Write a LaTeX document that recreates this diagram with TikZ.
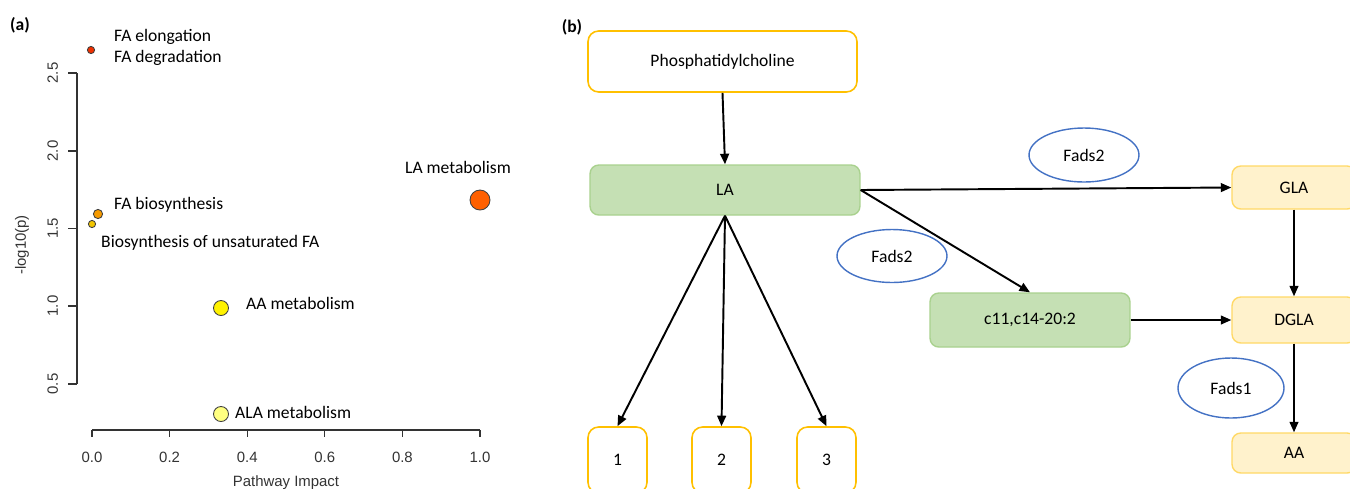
\documentclass[tikz,border=0pt]{standalone}
\usepackage{fontspec}
\setmainfont{Carlito}
\newfontfamily\plotfont{Liberation Sans}
\usetikzlibrary{arrows.meta,shapes.geometric}

\definecolor{boxyellow}{HTML}{FFC000}
\definecolor{lagreen}{HTML}{C5E0B4}
\definecolor{lagreenline}{HTML}{A9D18E}
\definecolor{paleyellow}{HTML}{FFF2CC}
\definecolor{paleyellowline}{HTML}{FFD966}
\definecolor{fadsblue}{HTML}{4472C4}
\definecolor{ptred}{HTML}{F03000}
\definecolor{ptorange}{HTML}{F59A00}
\definecolor{ptgold}{HTML}{F2C500}
\definecolor{ptla}{HTML}{FF6000}
\definecolor{ptaa}{HTML}{FFF200}
\definecolor{ptala}{HTML}{FFFF80}

\tikzset{
  txt/.style={font=\fontsize{10}{12}\selectfont},
  tick/.style={font=\plotfont\fontsize{8.5}{10}\selectfont, text=black!80},
  pt/.style={draw=black!75, line width=0.5pt},
  whitebox/.style={draw=boxyellow, line width=0.9pt, fill=white, rounded corners=6pt, txt},
  greenbox/.style={draw=lagreenline, line width=0.8pt, fill=lagreen, rounded corners=5pt, txt},
  yellowbox/.style={draw=paleyellowline, line width=0.8pt, fill=paleyellow, rounded corners=5pt, txt},
  enzyme/.style={ellipse, draw=fadsblue, line width=0.8pt, inner sep=0pt, txt},
  conv/.style={line width=1.1pt, -{Triangle[length=6pt,width=5pt]}}
}

\begin{document}
\begin{tikzpicture}[x=0.02cm,y=-0.02cm]
\useasboundingbox (0,0) rectangle (1350,488);
\clip (0,0) rectangle (1350,488);

% (a) pathway impact plot
\begin{scope}
\node[txt, font=\bfseries\fontsize{10}{12}\selectfont] (pa) at (20,25) {(a)};

% axes
\draw[line width=0.6pt, black!80] (77,73) -- (77,384);
\foreach \v/\yy in {0.5/384, 1.0/306, 1.5/228.5, 2.0/151, 2.5/73}
  \draw[line width=0.6pt, black!80] (68,\yy) -- (77,\yy) node[tick, rotate=90, pos=0, above=2pt, anchor=south] {\v};
\draw[line width=0.6pt, black!80] (92,430) -- (480,430);
\foreach \v/\xx in {0.0/92, 0.2/169.6, 0.4/247.2, 0.6/324.8, 0.8/402.4, 1.0/480}
  \draw[line width=0.6pt, black!80] (\xx,430) -- (\xx,437) node[tick, below=5pt] {\v};
\node[tick] (xlab) at (286,483) {Pathway Impact};
\node[tick, rotate=90] (ylab) at (22,245) {-log10(p)};

% points
\fill[pt, fill=ptred] (91,50) circle (3.6);
\fill[pt, fill=ptorange] (98,214) circle (4.6);
\fill[pt, fill=ptgold] (92,224) circle (3.6);
\fill[pt, fill=ptla] (480,200) circle (10);
\fill[pt, fill=ptaa] (221,308) circle (7.5);
\fill[pt, fill=ptala] (221,414) circle (7.5);

% labels
\node[txt, anchor=west] (elong) at (108,37) {FA elongation};
\node[txt, anchor=west] (degr) at (108,58) {FA degradation};
\node[txt, anchor=west] (biosyn) at (108,205) {FA biosynthesis};
\node[txt, anchor=west] (unsat) at (95,243) {Biosynthesis of unsaturated FA};
\node[txt] (lamet) at (458,167) {LA metabolism};
\node[txt, anchor=west] (aamet) at (240,303) {AA metabolism};
\node[txt, anchor=west] (alamet) at (229,412) {ALA metabolism};
\end{scope}

% (b) LA pathway
\begin{scope}
\node[txt, font=\bfseries\fontsize{10}{12}\selectfont] (pb) at (572,27) {(b)};

\node[whitebox, minimum width=5.38cm, minimum height=1.22cm] (phos) at (722.5,61.5) {Phosphatidylcholine};
\node[greenbox, minimum width=5.4cm, minimum height=1.0cm] (la) at (725,190) {LA};
\node[whitebox, minimum width=1.18cm, minimum height=1.32cm] (p1) at (617.5,460) {1};
\node[whitebox, minimum width=1.18cm, minimum height=1.32cm] (p2) at (721.5,460) {2};
\node[whitebox, minimum width=1.18cm, minimum height=1.32cm] (p3) at (826.5,460) {3};

\node[greenbox, minimum width=4cm, minimum height=1.08cm] (c11) at (1030,320) {c11,c14-20:2};
\node[yellowbox, minimum width=2.48cm, minimum height=0.86cm] (gla) at (1294,187.5) {GLA};
\node[yellowbox, minimum width=2.48cm, minimum height=0.92cm] (dgla) at (1294,320) {DGLA};
\node[yellowbox, minimum width=2.48cm, minimum height=0.8cm] (aa) at (1294,453) {AA};

\node[enzyme, minimum width=2.2cm, minimum height=1.08cm] (fadsup) at (1084,155) {Fads2};
\node[enzyme, minimum width=2.2cm, minimum height=1.06cm] (fadslow) at (892,256) {Fads2};
\node[enzyme, minimum width=2.12cm, minimum height=1.2cm] (fads1) at (1231,388) {Fads1};

\draw[conv] (phos.south) -- (la.north);
\draw[conv] (la.south) -- (p1.north);
\draw[conv] (la.south) -- (p2.north);
\draw[conv] (la.south) -- (p3.north);
\draw[conv] (la.east) -- (gla.west);
\draw[conv] (la.east) -- (c11.north);
\draw[conv] (gla.south) -- (dgla.north);
\draw[conv] (c11.east) -- (dgla.west);
\draw[conv] (dgla.south) -- (aa.north);
\end{scope}

\end{tikzpicture}
\end{document}
